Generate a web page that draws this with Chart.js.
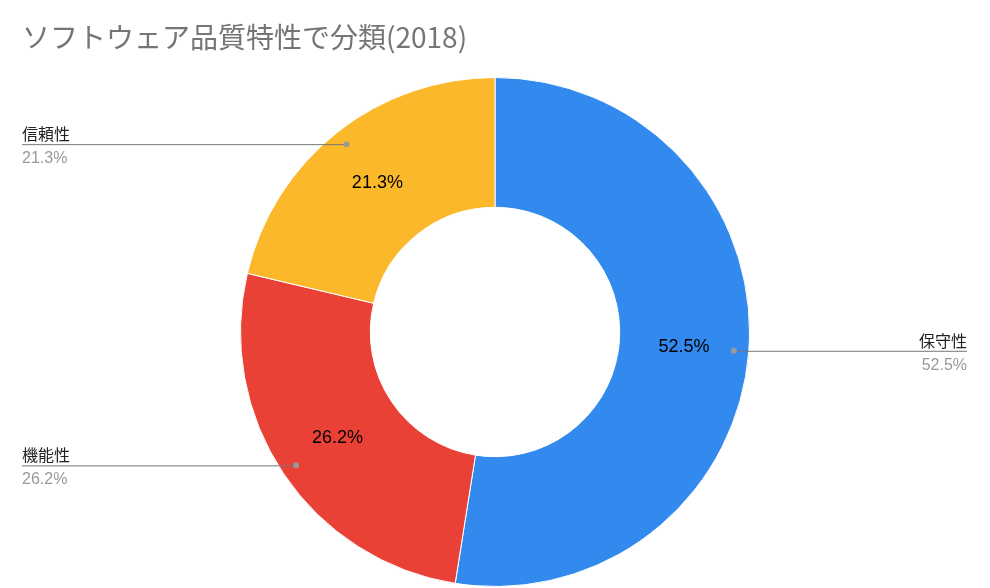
<!DOCTYPE html>
<html><head><meta charset="utf-8">
<script src="https://cdn.jsdelivr.net/npm/chart.js@4/dist/chart.umd.min.js"></script>
<style>html,body{margin:0;padding:0;background:#fff}#w{width:990px;height:588px}</style>
</head><body><div id="w"><canvas id="c"></canvas></div>
<script>
const chartTitle = 'ソフトウェア品質特性で分類(2018)';
const categories = ['保守性', '機能性', '信頼性'];
const values = [52.5, 26.2, 21.3];
const colors = ['#3289EE', '#EA4136', '#FBB82B'];
const FONT = '"Noto Sans CJK JP", "Liberation Sans", Arial, sans-serif';

const labelPlugin = {
  id: 'labels',
  afterDraw(chart) {
    const ctx = chart.ctx;
    ctx.save();
    ctx.fillStyle = '#757575';
    ctx.font = '28px ' + FONT;
    ctx.textBaseline = 'alphabetic';
    ctx.textAlign = 'left';
    ctx.fillText(chartTitle, 22, 48);
    const meta = chart.getDatasetMeta(0);
    meta.data.forEach((arc, i) => {
      const p = arc.getProps(['x','y','startAngle','endAngle','innerRadius','outerRadius'], true);
      const a = (p.startAngle + p.endAngle) / 2;
      const rm = (p.innerRadius + p.outerRadius) / 2;
      const txt = values[i].toFixed(1) + '%';
      ctx.fillStyle = '#000';
      ctx.font = '18px "Liberation Sans", Arial, sans-serif';
      ctx.textAlign = 'center'; ctx.textBaseline = 'middle';
      ctx.fillText(txt, p.x + Math.cos(a) * rm, p.y + Math.sin(a) * rm);
      const rd = p.outerRadius - 15;
      const dx = p.x + Math.cos(a) * rd, dy = p.y + Math.sin(a) * rd;
      const right = Math.cos(a) > 0;
      const ex = right ? 967 : 22;
      ctx.strokeStyle = '#777'; ctx.lineWidth = 1;
      ctx.beginPath(); ctx.moveTo(dx, dy + 0.5); ctx.lineTo(ex, dy + 0.5); ctx.stroke();
      ctx.fillStyle = '#999';
      ctx.beginPath(); ctx.arc(dx, dy, 3, 0, Math.PI * 2); ctx.fill();
      ctx.textAlign = right ? 'right' : 'left';
      ctx.textBaseline = 'alphabetic';
      ctx.fillStyle = '#222';
      ctx.font = '16px ' + FONT;
      ctx.fillText(categories[i], ex, dy - 4);
      ctx.fillStyle = '#999';
      ctx.font = '16px "Liberation Sans", Arial, sans-serif';
      ctx.fillText(txt, ex, dy + 19);
    });
    ctx.restore();
  }
};

new Chart(document.getElementById('c'), {
  type: 'doughnut',
  data: { labels: categories, datasets: [{ data: values, backgroundColor: colors, borderColor: '#fff', borderWidth: 1 }] },
  options: {
    responsive: true, maintainAspectRatio: false, animation: false,
    cutout: '49%',
    layout: { padding: { top: 77, bottom: 1, left: 0, right: 0 } },
    plugins: { legend: { display: false }, tooltip: { enabled: false } }
  },
  plugins: [labelPlugin]
});
</script></body></html>
